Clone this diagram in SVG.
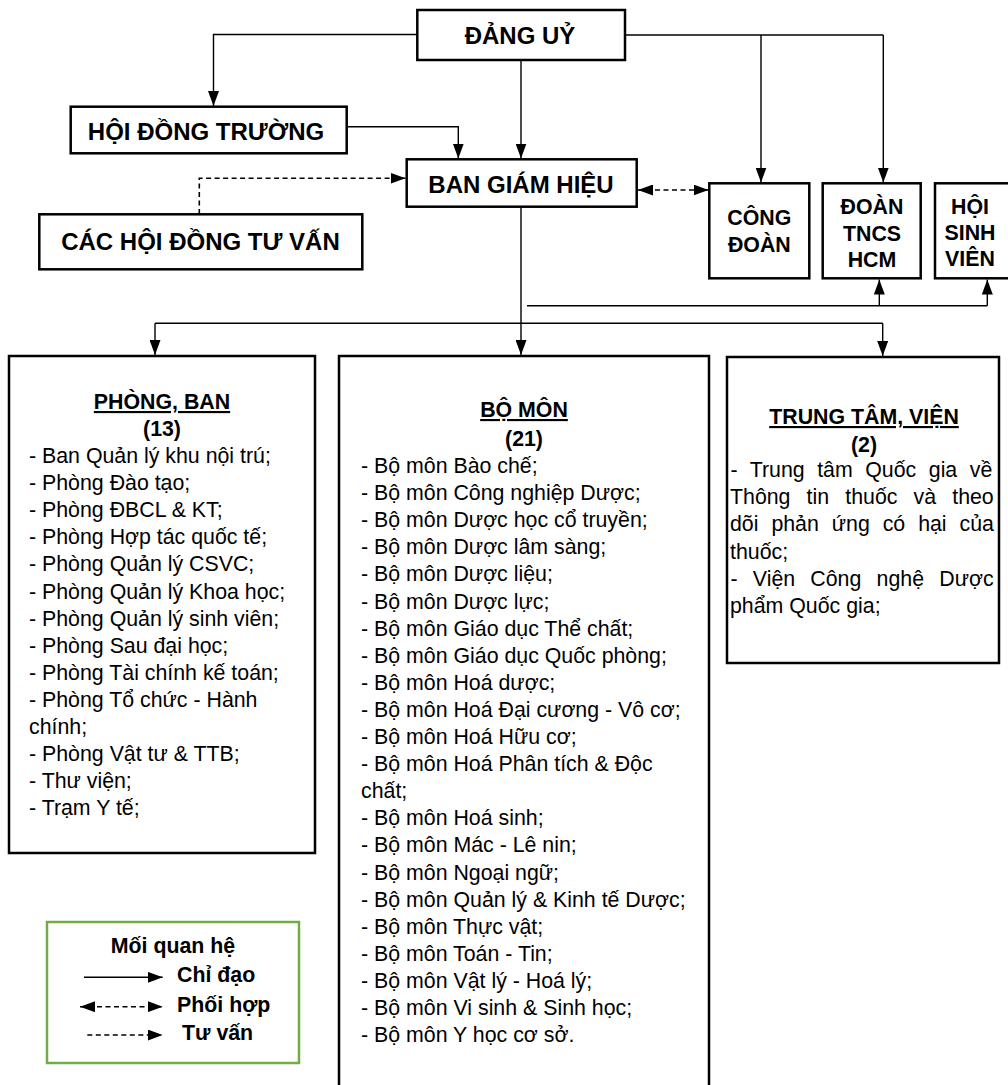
<svg xmlns="http://www.w3.org/2000/svg" width="1008" height="1085" viewBox="0 0 1008 1085">
<defs>
<marker id="arr" viewBox="0 0 15 11" refX="15" refY="5.5" markerWidth="15" markerHeight="11" markerUnits="userSpaceOnUse" orient="auto-start-reverse">
<path d="M0,0 L15,5.5 L0,11 z" fill="#000"/>
</marker>
</defs>
<style>
.box{fill:#fff;stroke:#000;stroke-width:2.5}
.t{font-family:"Liberation Sans",Arial,sans-serif;fill:#000}
.big{font-size:24px;font-weight:bold;text-anchor:middle}
.mid{font-size:21.33px;font-weight:bold;text-anchor:middle}
.hd{font-size:21.33px;font-weight:bold;text-anchor:middle;text-decoration:underline}
.it{font-size:21.33px}
.ln{fill:none;stroke:#000;stroke-width:1.4}
.dl{fill:none;stroke:#000;stroke-width:1.6;stroke-dasharray:5 3.5}
.lg{font-size:21.33px;font-weight:bold}
</style>
<rect width="1008" height="1085" fill="#fff"/>

<g id="connectors">
<polyline class="ln" points="417,34.5 213.5,34.5 213.5,106" marker-end="url(#arr)"/>
<line class="ln" x1="521" y1="60" x2="521" y2="158.5" marker-end="url(#arr)"/>
<polyline class="ln" points="347,126.7 458.3,126.7 458.3,158.5" marker-end="url(#arr)"/>
<line class="ln" x1="625" y1="35" x2="883.3" y2="35"/>
<line class="ln" x1="761" y1="35" x2="761" y2="182.5" marker-end="url(#arr)"/>
<line class="ln" x1="883.3" y1="35" x2="883.3" y2="182.5" marker-end="url(#arr)"/>
<polyline class="dl" points="199.3,214 199.3,178.3 405.5,178.3" marker-end="url(#arr)"/>
<line class="dl" x1="638" y1="190" x2="708.5" y2="190" marker-start="url(#arr)" marker-end="url(#arr)"/>
<line class="ln" x1="521" y1="207" x2="521" y2="355" marker-end="url(#arr)"/>
<line class="ln" x1="155" y1="323.3" x2="882.7" y2="323.3"/>
<line class="ln" x1="155" y1="323.3" x2="155" y2="355" marker-end="url(#arr)"/>
<line class="ln" x1="882.7" y1="323.3" x2="882.7" y2="356" marker-end="url(#arr)"/>
<line class="ln" x1="527" y1="305.7" x2="987.3" y2="305.7"/>
<line class="ln" x1="879.3" y1="305.7" x2="879.3" y2="279.6" marker-end="url(#arr)"/>
<line class="ln" x1="987.3" y1="305.7" x2="987.3" y2="279.6" marker-end="url(#arr)"/>
</g>

<g id="dang-uy">
<rect class="box" x="417.3" y="10" width="207.7" height="50"/>
<text class="t big" x="520" y="43.5">ĐẢNG UỶ</text>
</g>
<g id="hoi-dong-truong">
<rect class="box" x="70.7" y="106.7" width="276" height="46.6"/>
<text class="t big" x="206" y="140">HỘI ĐỒNG TRƯỜNG</text>
</g>
<g id="ban-giam-hieu">
<rect class="box" x="406.7" y="159.3" width="230" height="47.4"/>
<text class="t big" x="521" y="192.7">BAN GIÁM HIỆU</text>
</g>
<g id="cac-hoi-dong-tu-van">
<rect class="box" x="39.3" y="214.3" width="323" height="55"/>
<text class="t big" x="200.5" y="250">CÁC HỘI ĐỒNG TƯ VẤN</text>
</g>
<g id="cong-doan">
<rect class="box" x="709.3" y="183.3" width="100" height="95"/>
<text class="t mid" x="759.3" y="225">CÔNG</text>
<text class="t mid" x="759.3" y="251.7">ĐOÀN</text>
</g>
<g id="doan-tncs">
<rect class="box" x="822.7" y="183.3" width="98" height="95"/>
<text class="t mid" x="872" y="214.3">ĐOÀN</text>
<text class="t mid" x="872" y="240.5">TNCS</text>
<text class="t mid" x="872" y="266.7">HCM</text>
</g>
<g id="hoi-sinh-vien">
<rect class="box" x="935" y="183.3" width="76" height="95"/>
<text class="t mid" x="970" y="214.3">HỘI</text>
<text class="t mid" x="970" y="240">SINH</text>
<text class="t mid" x="970" y="265.5">VIÊN</text>
</g>

<g id="phong-ban">
<rect class="box" x="9" y="356" width="306" height="497"/>
<text class="t hd" x="162" y="409">PHÒNG, BAN</text>
<text class="t mid" x="162" y="436">(13)</text>
<text class="t it" x="29" y="463">- Ban Quản lý khu nội trú;</text>
<text class="t it" x="29" y="490.1">- Phòng Đào tạo;</text>
<text class="t it" x="29" y="517.2">- Phòng ĐBCL &amp; KT;</text>
<text class="t it" x="29" y="544.3">- Phòng Hợp tác quốc tế;</text>
<text class="t it" x="29" y="571.4">- Phòng Quản lý CSVC;</text>
<text class="t it" x="29" y="598.5">- Phòng Quản lý Khoa học;</text>
<text class="t it" x="29" y="625.6">- Phòng Quản lý sinh viên;</text>
<text class="t it" x="29" y="652.7">- Phòng Sau đại học;</text>
<text class="t it" x="29" y="679.8">- Phòng Tài chính kế toán;</text>
<text class="t it" x="29" y="706.9">- Phòng Tổ chức - Hành</text>
<text class="t it" x="29" y="734">chính;</text>
<text class="t it" x="29" y="761.1">- Phòng Vật tư &amp; TTB;</text>
<text class="t it" x="29" y="788.2">- Thư viện;</text>
<text class="t it" x="29" y="815.3">- Trạm Y tế;</text>
</g>

<g id="bo-mon">
<rect class="box" x="339" y="356" width="370" height="740"/>
<text class="t hd" x="524" y="417">BỘ MÔN</text>
<text class="t mid" x="524" y="445.5">(21)</text>
<text class="t it" x="361" y="473">- Bộ môn Bào chế;</text>
<text class="t it" x="361" y="500.1">- Bộ môn Công nghiệp Dược;</text>
<text class="t it" x="361" y="527.2">- Bộ môn Dược học cổ truyền;</text>
<text class="t it" x="361" y="554.3">- Bộ môn Dược lâm sàng;</text>
<text class="t it" x="361" y="581.4">- Bộ môn Dược liệu;</text>
<text class="t it" x="361" y="608.5">- Bộ môn Dược lực;</text>
<text class="t it" x="361" y="635.6">- Bộ môn Giáo dục Thể chất;</text>
<text class="t it" x="361" y="662.7">- Bộ môn Giáo dục Quốc phòng;</text>
<text class="t it" x="361" y="689.8">- Bộ môn Hoá dược;</text>
<text class="t it" x="361" y="716.9">- Bộ môn Hoá Đại cương - Vô cơ;</text>
<text class="t it" x="361" y="744">- Bộ môn Hoá Hữu cơ;</text>
<text class="t it" x="361" y="771.1">- Bộ môn Hoá Phân tích &amp; Độc</text>
<text class="t it" x="361" y="798.2">chất;</text>
<text class="t it" x="361" y="825.3">- Bộ môn Hoá sinh;</text>
<text class="t it" x="361" y="852.4">- Bộ môn Mác - Lê nin;</text>
<text class="t it" x="361" y="879.5">- Bộ môn Ngoại ngữ;</text>
<text class="t it" x="361" y="906.6">- Bộ môn Quản lý &amp; Kinh tế Dược;</text>
<text class="t it" x="361" y="933.7">- Bộ môn Thực vật;</text>
<text class="t it" x="361" y="960.8">- Bộ môn Toán - Tin;</text>
<text class="t it" x="361" y="987.9">- Bộ môn Vật lý - Hoá lý;</text>
<text class="t it" x="361" y="1015">- Bộ môn Vi sinh &amp; Sinh học;</text>
<text class="t it" x="361" y="1042.1">- Bộ môn Y học cơ sở.</text>
</g>

<g id="trung-tam-vien">
<rect class="box" x="727" y="357" width="272" height="306"/>
<text class="t hd" x="864" y="424">TRUNG TÂM, VIỆN</text>
<text class="t mid" x="864" y="451.5">(2)</text>
<text class="t it" x="730.5" y="477" word-spacing="6.6">- Trung tâm Quốc gia về</text>
<text class="t it" x="730" y="504.2" word-spacing="10.2">Thông tin thuốc và theo</text>
<text class="t it" x="730" y="531.4" word-spacing="7">dõi phản ứng có hại của</text>
<text class="t it" x="730" y="558.6">thuốc;</text>
<text class="t it" x="730.5" y="585.8" word-spacing="9.3">- Viện Công nghệ Dược</text>
<text class="t it" x="730" y="613">phẩm Quốc gia;</text>
</g>

<g id="legend">
<rect x="47" y="922" width="252" height="141" fill="#fff" stroke="#70AD47" stroke-width="2.5"/>
<text class="t lg" x="173" y="952.7" text-anchor="middle">Mối quan hệ</text>
<line class="ln" x1="84" y1="977.3" x2="162.7" y2="977.3" marker-end="url(#arr)"/>
<text class="t lg" x="177" y="982.3">Chỉ đạo</text>
<line class="dl" x1="80" y1="1006.7" x2="162.7" y2="1006.7" marker-start="url(#arr)" marker-end="url(#arr)"/>
<text class="t lg" x="177" y="1011.7">Phối hợp</text>
<line class="dl" x1="87.3" y1="1035" x2="162.7" y2="1035" marker-end="url(#arr)"/>
<text class="t lg" x="182" y="1040">Tư vấn</text>
</g>
</svg>
